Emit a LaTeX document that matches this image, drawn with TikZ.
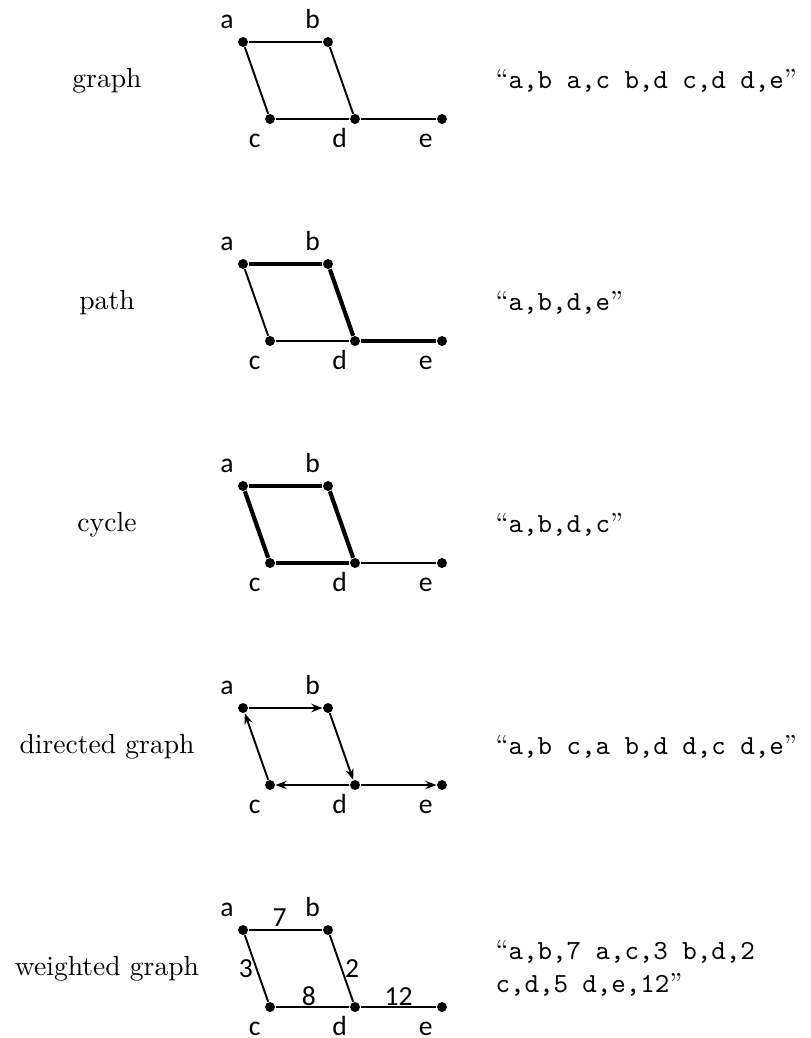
\documentclass[tikz,border=0pt]{standalone}
\usepackage{fontspec}
\usepackage{tikz}
\newfontfamily\vlabelfont{Carlito}
\usetikzlibrary{arrows.meta, positioning}

\begin{document}
\begin{tikzpicture}[
    x=0.3623pt, y=-0.3623pt,
    vertex/.style={
        circle,
        fill=black,
        inner sep=0pt,
        minimum size=3.6pt
    },
    vname/.style={
        font=\vlabelfont,
        inner sep=0.5pt,
        text height=5.5pt,
        text depth=0pt
    },
    edge/.style={
        line width=0.7pt
    },
    heavy/.style={
        line width=1.5pt
    },
    arc/.style={
        line width=0.7pt,
        -{Stealth[length=4pt, width=3pt]}
    },
    weight/.style={
        font=\vlabelfont,
        inner sep=1pt
    },
    rowname/.style={
        font=\normalsize
    },
    code/.style={
        anchor=west,
        align=left,
        inner sep=0pt
    }
]
\useasboundingbox (0,0) rectangle (811,1038);

% Row 1 - graph
\node[rowname] (n1) at (107,80.5) {graph};
\node[vertex] (a1) at (243,42) {};
\node[vertex] (b1) at (328,42) {};
\node[vertex] (c1) at (270,119) {};
\node[vertex] (d1) at (355,119) {};
\node[vertex] (e1) at (442,119) {};
\node[vname, above left=2.8pt and 1.3pt of a1] {a};
\node[vname, above left=2.8pt and 0.8pt of b1] {b};
\node[vname, below left=2.8pt and 1.3pt of c1] {c};
\node[vname, below left=2.8pt and 0.8pt of d1] {d};
\node[vname, below left=2.8pt and 1.3pt of e1] {e};
\draw[edge] (a1) -- (b1);
\draw[edge] (a1) -- (c1);
\draw[edge] (b1) -- (d1);
\draw[edge] (c1) -- (d1);
\draw[edge] (d1) -- (e1);
\node[code] (t1) at (495,80.5) {``\texttt{a,b a,c b,d c,d d,e}''};

% Row 2 - path
\node[rowname] (n2) at (107,302.5) {path};
\node[vertex] (a2) at (243,264) {};
\node[vertex] (b2) at (328,264) {};
\node[vertex] (c2) at (270,341) {};
\node[vertex] (d2) at (355,341) {};
\node[vertex] (e2) at (442,341) {};
\node[vname, above left=2.8pt and 1.3pt of a2] {a};
\node[vname, above left=2.8pt and 0.8pt of b2] {b};
\node[vname, below left=2.8pt and 1.3pt of c2] {c};
\node[vname, below left=2.8pt and 0.8pt of d2] {d};
\node[vname, below left=2.8pt and 1.3pt of e2] {e};
\draw[heavy] (a2) -- (b2);
\draw[edge] (a2) -- (c2);
\draw[heavy] (b2) -- (d2);
\draw[edge] (c2) -- (d2);
\draw[heavy] (d2) -- (e2);
\node[code] (t2) at (495,302.5) {``\texttt{a,b,d,e}''};

% Row 3 - cycle
\node[rowname] (n3) at (107,524.5) {cycle};
\node[vertex] (a3) at (243,486) {};
\node[vertex] (b3) at (328,486) {};
\node[vertex] (c3) at (270,563) {};
\node[vertex] (d3) at (355,563) {};
\node[vertex] (e3) at (442,563) {};
\node[vname, above left=2.8pt and 1.3pt of a3] {a};
\node[vname, above left=2.8pt and 0.8pt of b3] {b};
\node[vname, below left=2.8pt and 1.3pt of c3] {c};
\node[vname, below left=2.8pt and 0.8pt of d3] {d};
\node[vname, below left=2.8pt and 1.3pt of e3] {e};
\draw[heavy] (a3) -- (b3);
\draw[heavy] (a3) -- (c3);
\draw[heavy] (b3) -- (d3);
\draw[heavy] (c3) -- (d3);
\draw[edge] (d3) -- (e3);
\node[code] (t3) at (495,524.5) {``\texttt{a,b,d,c}''};

% Row 4 - directed graph
\node[rowname] (n4) at (107,746.5) {directed graph};
\node[vertex] (a4) at (243,708) {};
\node[vertex] (b4) at (328,708) {};
\node[vertex] (c4) at (270,785) {};
\node[vertex] (d4) at (355,785) {};
\node[vertex] (e4) at (442,785) {};
\node[vname, above left=2.8pt and 1.3pt of a4] {a};
\node[vname, above left=2.8pt and 0.8pt of b4] {b};
\node[vname, below left=2.8pt and 1.3pt of c4] {c};
\node[vname, below left=2.8pt and 0.8pt of d4] {d};
\node[vname, below left=2.8pt and 1.3pt of e4] {e};
\draw[arc] (a4) -- (b4);
\draw[arc] (c4) -- (a4);
\draw[arc] (b4) -- (d4);
\draw[arc] (d4) -- (c4);
\draw[arc] (d4) -- (e4);
\node[code] (t4) at (495,746.5) {``\texttt{a,b c,a b,d d,c d,e}''};

% Row 5 - weighted graph
\node[rowname] (n5) at (107,968.5) {weighted graph};
\node[vertex] (a5) at (243,930) {};
\node[vertex] (b5) at (328,930) {};
\node[vertex] (c5) at (270,1007) {};
\node[vertex] (d5) at (355,1007) {};
\node[vertex] (e5) at (442,1007) {};
\node[vname, above left=2.8pt and 1.3pt of a5] {a};
\node[vname, above left=2.8pt and 0.8pt of b5] {b};
\node[vname, below left=2.8pt and 1.3pt of c5] {c};
\node[vname, below left=2.8pt and 0.8pt of d5] {d};
\node[vname, below left=2.8pt and 1.3pt of e5] {e};
\draw[edge] (a5) -- node[weight, above, pos=0.42] {7} (b5);
\draw[edge] (a5) -- node[weight, left] {3} (c5);
\draw[edge] (b5) -- node[weight, right] {2} (d5);
\draw[edge] (c5) -- node[weight, above, pos=0.45, inner sep=0.3pt] {8} (d5);
\draw[edge] (d5) -- node[weight, above, inner sep=0.3pt] {12} (e5);
\node[code] (t5) at (495,968.5) {``\texttt{a,b,7 a,c,3 b,d,2}\\\texttt{c,d,5 d,e,12}''};

\end{tikzpicture}
\end{document}
